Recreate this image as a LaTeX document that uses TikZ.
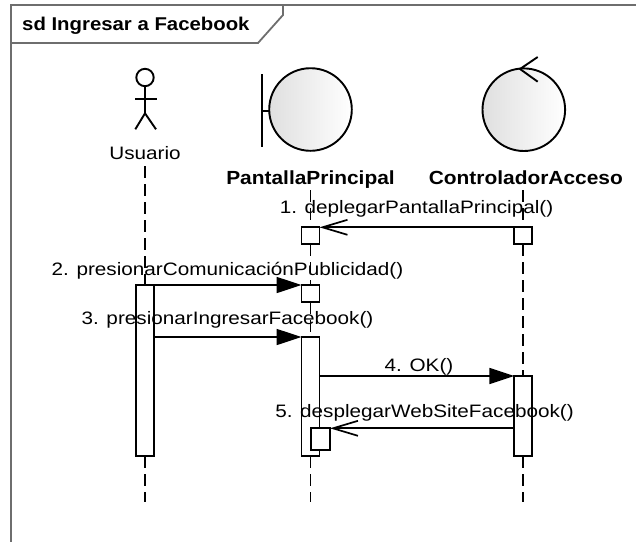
\documentclass[tikz,border=0pt]{standalone}
\usepackage{fontspec}
\setmainfont{Liberation Sans}
\newfontfamily\lblfont{Liberation Sans}[FakeStretch=1.15]
\newfontfamily\ttlfont{Liberation Sans}[FakeStretch=1.1]
\usetikzlibrary{arrows.meta}
\definecolor{framegray}{RGB}{110,110,110}
\begin{document}
\begin{tikzpicture}[x=1pt,y=-1pt,
  lbl/.style={font=\lblfont\fontsize{18}{20}\selectfont, inner sep=0pt, anchor=base},
  objname/.style={font=\ttlfont\bfseries\fontsize{19}{21}\selectfont, inner sep=0pt, anchor=base},
  act/.style={draw, fill=white, line width=1.9pt, minimum width=18pt, inner sep=0pt, outer sep=0pt},
  life/.style={line width=1.9pt, dash pattern=on 12pt off 6pt},
  sym/.style={line width=1.9pt},
  msgsync/.style={line width=1.7pt, -{Triangle[length=25pt,width=16pt]}},
  msgret/.style={line width=1.7pt, -{Straight Barb[length=25pt,width=15pt]}},
  framecol/.style={draw=framegray, line width=1.8pt},
  grad/.style={left color=gray!25, middle color=white, right color=white}]
\useasboundingbox (0,0) rectangle (636,541);

% frame
\draw[framecol] (11,545) -- (11,5) -- (640,5);
\draw[framecol] (11,43) -- (258,43) -- (283,15) -- (283,5);
\node[font=\ttlfont\bfseries\fontsize{18.5}{20}\selectfont, inner sep=0pt, anchor=base west] (title) at (22,30.7) {sd Ingresar a Facebook};

% actor
\draw[sym] (145,77.5) circle (8.7);
\draw[sym] (145,86.2) -- (145,113.3);
\draw[sym] (135,99) -- (156.5,99);
\draw[sym] (135.3,129.3) -- (145,113.3) -- (156,129.3);
\node[lbl] (nUsr) at (145,159.3) {Usuario};

% boundary
\draw[sym] (261.7,74) -- (261.7,147.3);
\draw[sym] (261.7,111) -- (269.2,111);
\draw[sym, grad] (310.5,109.5) circle (41.3);
\node[objname] (nPan) at (310.5,184.3) {PantallaPrincipal};

% control
\draw[sym, grad] (523.8,109.7) circle (41.3);
\draw[sym] (537.7,57) -- (520,69) -- (537.7,81.7);
\node[objname] (nCon) at (525.8,184.3) {ControladorAcceso};

% lifeline ends
\coordinate (uTop) at (144.7,166);
\coordinate (uEnd) at (144.7,502);
\coordinate (pTop) at (310.5,190);
\coordinate (pEnd) at (310.5,502);
\coordinate (cTop) at (523.3,190);
\coordinate (cEnd) at (523.3,502);

% lifelines
\draw[life] (uTop) -- (144.7,285);
\draw[life] (144.7,456) -- (uEnd);
\draw[life] (pTop) -- (310.5,227.3);
\draw[life] (310.5,244) -- (310.5,285);
\draw[life] (310.5,302) -- (310.5,337);
\draw[life] (310.5,456) -- (pEnd);
\draw[life] (cTop) -- (523.3,227.3);
\draw[life] (523.3,244) -- (523.3,376);
\draw[life] (523.3,456) -- (cEnd);

% activation boxes
\node[act, minimum height=171pt] (u1) at (144.7,370.5) {};
\node[act, minimum height=16.7pt] (p1) at (310.5,235.65) {};
\node[act, minimum height=16.7pt] (c1) at (523.3,235.65) {};
\node[act, minimum height=17pt] (p2) at (310.5,293.5) {};
\node[act, minimum height=119pt] (p3) at (310.5,396.5) {};
\node[act, minimum width=19pt, minimum height=21.7pt] (p4) at (320.5,439.15) {};
\node[act, minimum height=80pt] (c2) at (523.3,416) {};

% messages
\draw[msgret] (c1.north west) -- (p1.north east);
\draw[msgsync] (u1.north east) -- (p2.north west);
\draw[msgsync] (u1.east |- p3.north) -- (p3.north west);
\draw[msgsync] (p3.east |- c2.north) -- (c2.north west);
\draw[msgret] (c2.west |- p4.north) -- (p4.north east);

\node[lbl] (m1) at (416.5,213.3) {1. deplegarPantallaPrincipal()};
\node[lbl] (m2) at (227.5,275.7) {2. presionarComunicaciónPublicidad()};
\node[lbl] (m3) at (227.5,324.3) {3. presionarIngresarFacebook()};
\node[lbl] (m4) at (419,371) {4. OK()};
\node[lbl] (m5) at (424.5,417) {5. desplegarWebSiteFacebook()};
\end{tikzpicture}
\end{document}
